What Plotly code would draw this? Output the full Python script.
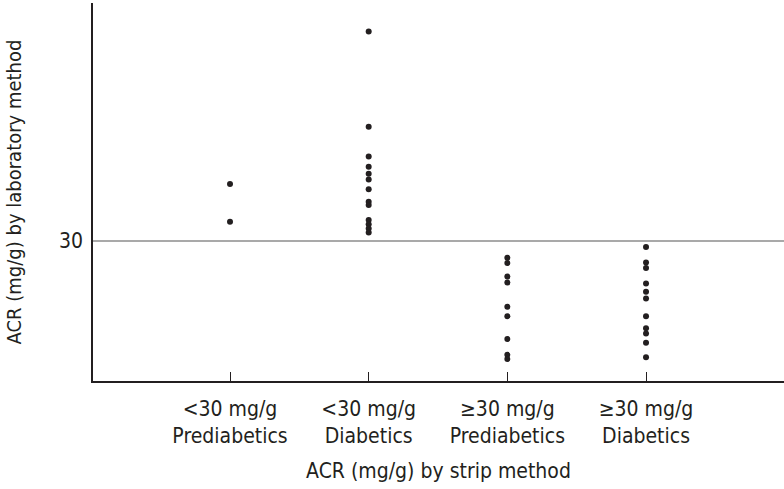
import plotly.graph_objects as go

categories = ["<30 mg/g<br>Prediabetics", "<30 mg/g<br>Diabetics",
              "≥30 mg/g<br>Prediabetics", "≥30 mg/g<br>Diabetics"]

lt30_prediabetics = [42.2, 34.1]
lt30_diabetics = [74.9, 54.5, 48.1, 45.9, 44.4, 43.2, 41.1, 38.4, 37.7,
                  34.5, 33.6, 32.7, 31.8]
ge30_prediabetics = [26.4, 25.3, 22.4, 21.1, 15.9, 13.9, 9.0, 5.6, 4.7]
ge30_diabetics = [28.7, 25.4, 24.2, 20.9, 19.1, 17.7, 13.9, 11.3, 10.2,
                  8.2, 5.1]

cutoff = 30
ytick_vals = [30]
ytick_text = ["30"]

groups = [lt30_prediabetics, lt30_diabetics, ge30_prediabetics, ge30_diabetics]

xs, ys = [], []
for i, g in enumerate(groups):
    xs += [i + 1] * len(g)
    ys += g

font_family = "DejaVu Sans Condensed, Liberation Sans Narrow, sans-serif"
ink = "#231f20"

fig = go.Figure()
fig.add_trace(go.Scatter(x=xs, y=ys, mode="markers",
                         marker=dict(color=ink, size=6, line=dict(width=0)),
                         showlegend=False, hoverinfo="skip"))

fig.add_shape(type="line", xref="paper", x0=0, x1=1, yref="y", y0=cutoff, y1=cutoff,
              line=dict(color="#8c8c8c", width=1.6), layer="below")

fig.update_layout(
    width=784, height=489,
    margin=dict(l=93, r=0, t=3, b=108, autoexpand=False),
    paper_bgcolor="white", plot_bgcolor="white",
    font=dict(family=font_family, size=20, color=ink),
    xaxis=dict(range=[0.012, 4.995], tickmode="array", tickvals=[1, 2, 3, 4],
               ticktext=categories, ticks="inside", ticklen=9, tickwidth=1.2,
               tickcolor=ink, showline=True, linecolor=ink, linewidth=1.6,
               showgrid=False, zeroline=False, automargin=False,
               ticklabelstandoff=8,
               tickfont=dict(size=21),
               title=dict(text="ACR (mg/g) by strip method", standoff=16,
                          font=dict(size=21))),
    yaxis=dict(range=[0, 81.0], tickmode="array", tickvals=ytick_vals,
               ticktext=ytick_text, ticks="", ticklabelstandoff=4,
               showline=True, linecolor=ink, linewidth=1.6,
               showgrid=False, zeroline=False, automargin=False,
               tickfont=dict(size=21),
               title=dict(text="ACR (mg/g) by laboratory method", standoff=32,
                          font=dict(size=20))),
)

fig.write_html("out.html", config={"displayModeBar": False},
               post_script="document.body.style.margin='0';")
